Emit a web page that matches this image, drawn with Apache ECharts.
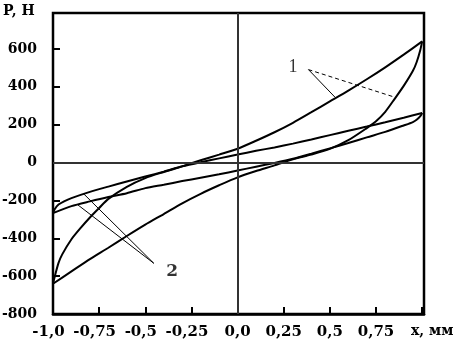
<!DOCTYPE html>
<html>
<head>
<meta charset="utf-8">
<script src="https://cdn.jsdelivr.net/npm/echarts@6/dist/echarts.min.js"></script>
<style>
html,body{margin:0;padding:0;background:#fff;}
#chart{width:466px;height:347px;}
</style>
</head>
<body>
<div id="chart"></div>
<script>
// Tick labels
const xTickLabels = ['-1,0', '-0,75', '-0,5', '-0,25', '0,0', '0,25', '0,5', '0,75'];
const yTickValues = [-800, -600, -400, -200, 0, 200, 400, 600];

// Loop 1 (larger amplitude), rising branch
const s1X = [-1.0, -0.99, -0.97, -0.95, -0.9, -0.85, -0.8, -0.75, -0.7, -0.6, -0.5, -0.4, -0.3, -0.2, -0.1, 0, 0.1, 0.2, 0.3, 0.4, 0.5, 0.6, 0.7, 0.8, 0.9, 1.0];
const s1Y = [-640, -600, -530, -485, -405, -345, -290, -240, -192, -128, -82, -50, -20, 12, 42, 73, 115, 160, 210, 266, 323, 380, 440, 503, 570, 640];
// Loop 1, falling branch
const s2X = [1.0, 0.99, 0.97, 0.95, 0.9, 0.85, 0.8, 0.75, 0.7, 0.6, 0.5, 0.4, 0.3, 0.2, 0.1, 0, -0.1, -0.2, -0.3, -0.4, -0.5, -0.6, -0.7, -0.8, -0.9, -1.0];
const s2Y = [640, 595, 530, 485, 405, 335, 268, 218, 182, 118, 72, 42, 17, -15, -45, -78, -120, -165, -215, -272, -328, -388, -450, -510, -575, -640];

// Loop 2 (smaller amplitude), rising branch
const u2X = [-1.0, -0.99, -0.97, -0.94, -0.9, -0.8, -0.7, -0.6, -0.5, -0.4, -0.3, -0.2, -0.1, 0, 0.1, 0.2, 0.3, 0.4, 0.5, 0.6, 0.7, 0.8, 0.9, 1.0];
const u2Y = [-267, -245, -222, -205, -188, -155, -127, -100, -74, -48, -20, 2, 22, 42, 62, 80, 100, 122, 145, 168, 190, 213, 237, 262];
// Loop 2, falling branch
const d2X = [1.0, 0.99, 0.97, 0.95, 0.9, 0.8, 0.7, 0.6, 0.5, 0.4, 0.3, 0.2, 0.1, 0, -0.1, -0.2, -0.3, -0.4, -0.5, -0.6, -0.7, -0.8, -0.9, -1.0];
const d2Y = [262, 245, 226, 214, 196, 162, 133, 103, 75, 47, 20, -2, -22, -42, -62, -80, -98, -117, -135, -162, -182, -205, -230, -267];

// Annotation pointers (data coordinates)
const label1Pos = [0.30, 502];
const pointer1Origin = [0.384, 491];
const pointer1aEnd = [0.528, 345];
const pointer1bEnd = [0.852, 345];
const label2Pos = [-0.355, -578];
const pointer2Origin = [-0.454, -532];
const pointer2aEnd = [-0.834, -165];
const pointer2bEnd = [-0.866, -223];

function zip(xs, ys) { return xs.map((x, i) => [x, ys[i]]); }

const serif = 'DejaVu Serif';
const chart = echarts.init(document.getElementById('chart'), null, {renderer: 'canvas'});

function branch(xs, ys) {
  return {
    type: 'line', data: zip(xs, ys), showSymbol: false, symbol: 'none',
    smooth: 0.25,
    lineStyle: {color: '#000', width: 2}, silent: true, z: 3
  };
}
function pointer(a, b, dashed) {
  return {
    type: 'line', data: [a, b], showSymbol: false, symbol: 'none',
    lineStyle: {color: '#000', width: 1, type: dashed ? [4, 3] : 'solid'}, silent: true, z: 3
  };
}
function textMark(pos, txt, font, size, weight) {
  return {
    type: 'scatter', data: [pos], symbolSize: 2, silent: true,
    itemStyle: {color: 'rgba(0,0,0,0)'},
    label: {show: true, position: 'inside', formatter: txt, color: '#000',
      fontFamily: font, fontSize: size, fontWeight: weight}, z: 4
  };
}

const zeroLines = branch(s1X, s1Y);
zeroLines.markLine = {
  silent: true, symbol: 'none', animation: false,
  label: {show: false},
  lineStyle: {color: '#333', width: 2, type: 'solid'},
  data: [{xAxis: 0}, {yAxis: 0}]
};

const xLabelFont = {color: '#000', fontFamily: serif, fontWeight: 'bold', fontSize: 15};
const yLabelFont = {color: '#000', fontFamily: serif, fontWeight: 'bold', fontSize: 14};

chart.setOption({
  animation: false,
  backgroundColor: '#fff',
  title: [
    {text: 'P, H', left: 3, top: 4, padding: 0,
     textStyle: {fontFamily: serif, fontWeight: 'bold', fontSize: 14, color: '#000'}},
    {text: 'x, мм', left: 411, top: 324, padding: 0,
     textStyle: {fontFamily: serif, fontWeight: 'bold', fontSize: 14, color: '#000'}}
  ],
  grid: {left: 53, right: 42, top: 13, bottom: 33, containLabel: false, outerBoundsMode: 'none',
         show: true, borderColor: '#000', borderWidth: 2.5, backgroundColor: 'transparent'},
  xAxis: {
    type: 'value', min: -1, max: 1.01, interval: 0.25,
    axisLine: {show: true, onZero: false, lineStyle: {color: '#000', width: 2.5}},
    axisTick: {show: true, inside: true, length: 7, lineStyle: {color: '#000', width: 2}},
    splitLine: {show: false},
    axisLabel: Object.assign({
      margin: 11,
      rich: {
        neg: Object.assign({padding: [0, 9, 0, 0]}, xLabelFont),
        pos: Object.assign({}, xLabelFont)
      },
      formatter: function (v) {
        const idx = Math.round((v + 1) / 0.25);
        if (Math.abs(v - (-1 + idx * 0.25)) > 1e-6) return '';
        const t = xTickLabels[idx];
        if (!t) return '';
        return (v < 0 ? '{neg|' : '{pos|') + t + '}';
      }
    }, xLabelFont)
  },
  yAxis: {
    type: 'value', min: -800, max: 790, interval: 200,
    axisLine: {show: true, onZero: false, lineStyle: {color: '#000', width: 2}},
    axisTick: {show: true, inside: true, length: 7, lineStyle: {color: '#000', width: 2}},
    splitLine: {show: false},
    axisLabel: Object.assign({
      margin: 16,
      formatter: function (v) { return yTickValues.indexOf(v) >= 0 ? String(v) : ''; }
    }, yLabelFont)
  },
  series: [
    zeroLines,
    branch(s2X, s2Y),
    branch(u2X, u2Y),
    branch(d2X, d2Y),
    pointer(pointer1Origin, pointer1aEnd, false),
    pointer(pointer1Origin, pointer1bEnd, true),
    pointer(pointer2Origin, pointer2aEnd, false),
    pointer(pointer2Origin, pointer2bEnd, false),
    textMark(label1Pos, '1', 'Liberation Serif', 18, 'normal'),
    textMark(label2Pos, '2', serif, 17, 'bold')
  ]
});
</script>
</body>
</html>
